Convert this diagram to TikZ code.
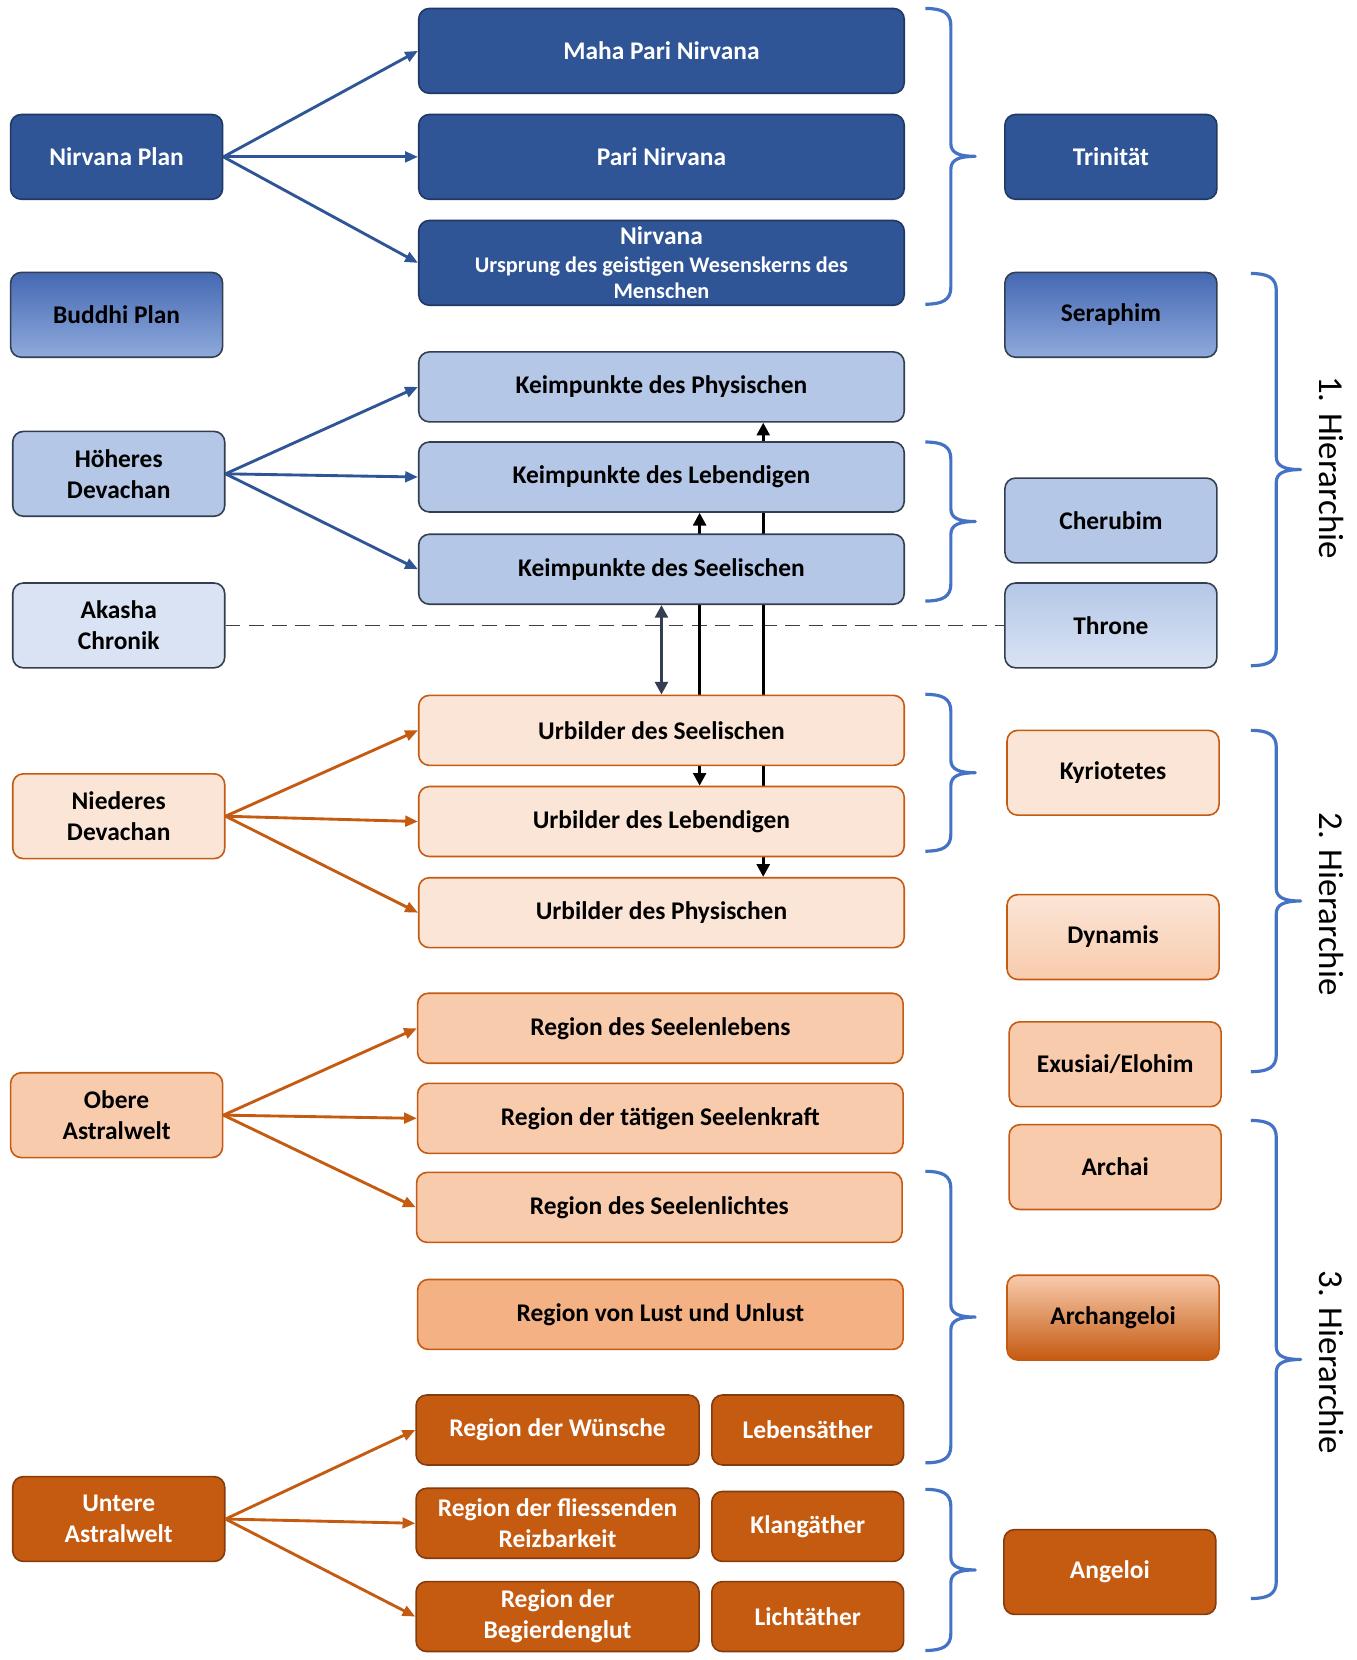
\documentclass[tikz,border=0pt]{standalone}
\usepackage{fontspec}
\setmainfont{Carlito}
\usetikzlibrary{arrows.meta,backgrounds}

\definecolor{dblau}{HTML}{2F5597}
\definecolor{rblau}{HTML}{1F3864}
\definecolor{mblau}{HTML}{8FAADC}
\definecolor{tblau}{HTML}{4468B2}
\definecolor{hblau}{HTML}{B4C7E7}
\definecolor{sblau}{HTML}{DAE3F3}
\definecolor{kblau}{HTML}{4472C4}
\definecolor{schiefer}{HTML}{333F50}
\definecolor{dorange}{HTML}{C55A11}
\definecolor{rorange}{HTML}{843C0C}
\definecolor{morange}{HTML}{F4B183}
\definecolor{horange}{HTML}{F8CBAD}
\definecolor{sorange}{HTML}{FBE5D6}

% geschweifte Klammer: x, oben, unten
\newcommand\klammer[3]{%
  \draw[klammer] (#1,#2) .. controls ({#1+16},#2) and ({#1+24},{#2+4}) .. ({#1+24},{#2+16})
    -- ({#1+24},{(#2+#3)/2-12}) .. controls ({#1+24},{(#2+#3)/2-3}) and ({#1+32},{(#2+#3)/2}) .. ({#1+47},{(#2+#3)/2})
    .. controls ({#1+32},{(#2+#3)/2}) and ({#1+24},{(#2+#3)/2+3}) .. ({#1+24},{(#2+#3)/2+12})
    -- ({#1+24},{#3-16}) .. controls ({#1+24},{#3-4}) and ({#1+16},#3) .. (#1,#3);}

\begin{document}
\begin{tikzpicture}[x=0.5pt,y=-0.5pt,
  kasten/.style={rounded corners=5pt,line width=0.75pt,align=center,inner sep=2pt,
    font=\bfseries\fontsize{12}{14.5}\selectfont},
  seite/.style={kasten,minimum width=100pt,minimum height=40pt},
  mitte/.style={kasten,minimum width=229pt,minimum height=33pt},
  hoch/.style={mitte,minimum height=40pt},
  halbl/.style={kasten,minimum width=133.5pt,minimum height=33pt},
  halbr/.style={kasten,minimum width=90.5pt,minimum height=33pt},
  nirv/.style={fill=dblau,draw=rblau,text=white},
  buddhi/.style={top color=tblau,bottom color=mblau,draw=schiefer},
  geist/.style={fill=hblau,draw=schiefer},
  akasha/.style={fill=sblau,draw=schiefer},
  thron/.style={top color=hblau,bottom color=sblau,draw=schiefer},
  devn/.style={fill=sorange,draw=dorange},
  dyn/.style={top color=sorange,bottom color=horange,draw=dorange},
  astro/.style={fill=horange,draw=dorange},
  lust/.style={fill=morange,draw=dorange},
  erzengel/.style={top color=horange,middle color=morange,bottom color=dorange,draw=dorange},
  astru/.style={fill=dorange,draw=rorange,text=white},
  pfeil/.style={-{Triangle[length=6pt,width=5pt]},line width=1.35pt},
  senk/.style={{Triangle[length=6pt,width=6pt]}-{Triangle[length=6pt,width=6pt]},line width=1.5pt},
  klammer/.style={draw=kblau,line width=1.5pt,line join=round},
  ebene/.style={rotate=-90,font=\fontsize{16.5}{20}\selectfont}]

  \useasboundingbox (0,0) rectangle (1280,1566);

  % linke Spalte
  \node[seite,nirv]   (nplan)   at (110,148)  {Nirvana Plan};
  \node[seite,buddhi] (bplan)   at (110,297)  {Buddhi Plan};
  \node[seite,geist]  (hdev)    at (112,447)  {Höheres\\Devachan};
  \node[seite,akasha] (akasha)  at (112,590)  {Akasha\\Chronik};
  \node[seite,devn]   (ndev)    at (112,770)  {Niederes\\Devachan};
  \node[seite,astro]  (oastral) at (110,1052) {Obere\\Astralwelt};
  \node[seite,astru]  (uastral) at (112,1433) {Untere\\Astralwelt};

  % mittlere Spalte
  \node[hoch,nirv]  (maha)   at (624,48)  {Maha Pari Nirvana};
  \node[hoch,nirv]  (pari)   at (624,148) {Pari Nirvana};
  \node[hoch,nirv]  (nirvana) at (624,248)
    {Nirvana\\[-1.5pt]\fontsize{10.5}{11.5}\selectfont Ursprung des geistigen Wesenskerns des\\[-2pt]\fontsize{10.5}{11.5}\selectfont Menschen};
  \node[mitte,geist] (kphys) at (624,365) {Keimpunkte des Physischen};
  \node[mitte,geist] (kleb)  at (624,450) {Keimpunkte des Lebendigen};
  \node[mitte,geist] (kseel) at (624,537) {Keimpunkte des Seelischen};
  \node[mitte,devn]  (useel) at (624,689) {Urbilder des Seelischen};
  \node[mitte,devn]  (uleb)  at (624,775) {Urbilder des Lebendigen};
  \node[mitte,devn]  (uphys) at (624,861) {Urbilder des Physischen};
  \node[mitte,astro] (rleben) at (623,970)  {Region des Seelenlebens};
  \node[mitte,astro] (rkraft) at (623,1055) {Region der tätigen Seelenkraft};
  \node[mitte,astro] (rlicht) at (622,1139) {Region des Seelenlichtes};
  \node[mitte,lust]  (rlust)  at (623,1240) {Region von Lust und Unlust};
  \node[halbl,astru] (rwunsch) at (526,1349) {Region der Wünsche};
  \node[halbl,astru] (rreiz)   at (526,1437) {Region der fliessenden\\Reizbarkeit};
  \node[halbl,astru] (rglut)   at (526,1525) {Region der\\Begierdenglut};
  \node[halbr,astru] (leben)   at (762,1349) {Lebensäther};
  \node[halbr,astru] (klang)   at (762,1440) {Klangäther};
  \node[halbr,astru] (licht)   at (762,1525) {Lichtäther};

  % rechte Spalte
  \node[seite,nirv]     (trinitaet) at (1048,148)  {Trinität};
  \node[seite,buddhi]   (seraphim)  at (1048,297)  {Seraphim};
  \node[seite,geist]    (cherubim)  at (1048,491)  {Cherubim};
  \node[seite,thron]    (throne)    at (1048,590)  {Throne};
  \node[seite,devn]     (kyrio)     at (1050,729)  {Kyriotetes};
  \node[seite,dyn]      (dynamis)   at (1050,884)  {Dynamis};
  \node[seite,astro]    (exusiai)   at (1052,1004) {Exusiai/Elohim};
  \node[seite,astro]    (archai)    at (1052,1101) {Archai};
  \node[seite,erzengel] (erzengel)  at (1050,1243) {Archangeloi};
  \node[seite,astru]    (angeloi)   at (1047,1483) {Angeloi};

  % Pfeile nach rechts
  \draw[pfeil,dblau] (nplan.east) -- (maha.west);
  \draw[pfeil,dblau] (nplan.east) -- (pari.west);
  \draw[pfeil,dblau] (nplan.east) -- (nirvana.west);
  \draw[pfeil,dblau] (hdev.east) -- (kphys.west);
  \draw[pfeil,dblau] (hdev.east) -- (kleb.west);
  \draw[pfeil,dblau] (hdev.east) -- (kseel.west);
  \draw[pfeil,dorange] (ndev.east) -- (useel.west);
  \draw[pfeil,dorange] (ndev.east) -- (uleb.west);
  \draw[pfeil,dorange] (ndev.east) -- (uphys.west);
  \draw[pfeil,dorange] (oastral.east) -- (rleben.west);
  \draw[pfeil,dorange] (oastral.east) -- (rkraft.west);
  \draw[pfeil,dorange] (oastral.east) -- (rlicht.west);
  \draw[pfeil,dorange] (uastral.east) -- (rwunsch.west);
  \draw[pfeil,dorange] (uastral.east) -- (rreiz.west);
  \draw[pfeil,dorange] (uastral.east) -- (rglut.west);

  % hinter den Kaesten
  \begin{scope}[on background layer]
    \fill[white] (0,0) rectangle (1280,1566);
    \draw[dashed,dash pattern=on 7pt off 4pt,line width=0.75pt,black!75] (akasha.east) -- (throne.west);
    \draw[senk,schiefer,line width=1.75pt] (kseel.south) -- (useel.north);
    \draw[senk] ([xshift=18pt]kleb.south) -- ([xshift=18pt]uleb.north);
    \draw[senk] ([xshift=48pt]kphys.south) -- ([xshift=48pt]uphys.north);
  \end{scope}

  % Klammern
  \klammer{873}{8}{287}
  \klammer{873}{417}{567}
  \klammer{873}{655}{803}
  \klammer{873}{1105}{1380}
  \klammer{873}{1405}{1557}
  \klammer{1180}{258}{628}
  \klammer{1180}{689}{1011}
  \klammer{1180}{1057}{1508}

  % Hierarchien
  \node[ebene] (h1) at (1256,441)  {1. Hierarchie};
  \node[ebene] (h2) at (1256,853)  {2. Hierarchie};
  \node[ebene] (h3) at (1256,1285) {3. Hierarchie};
\end{tikzpicture}
\end{document}
